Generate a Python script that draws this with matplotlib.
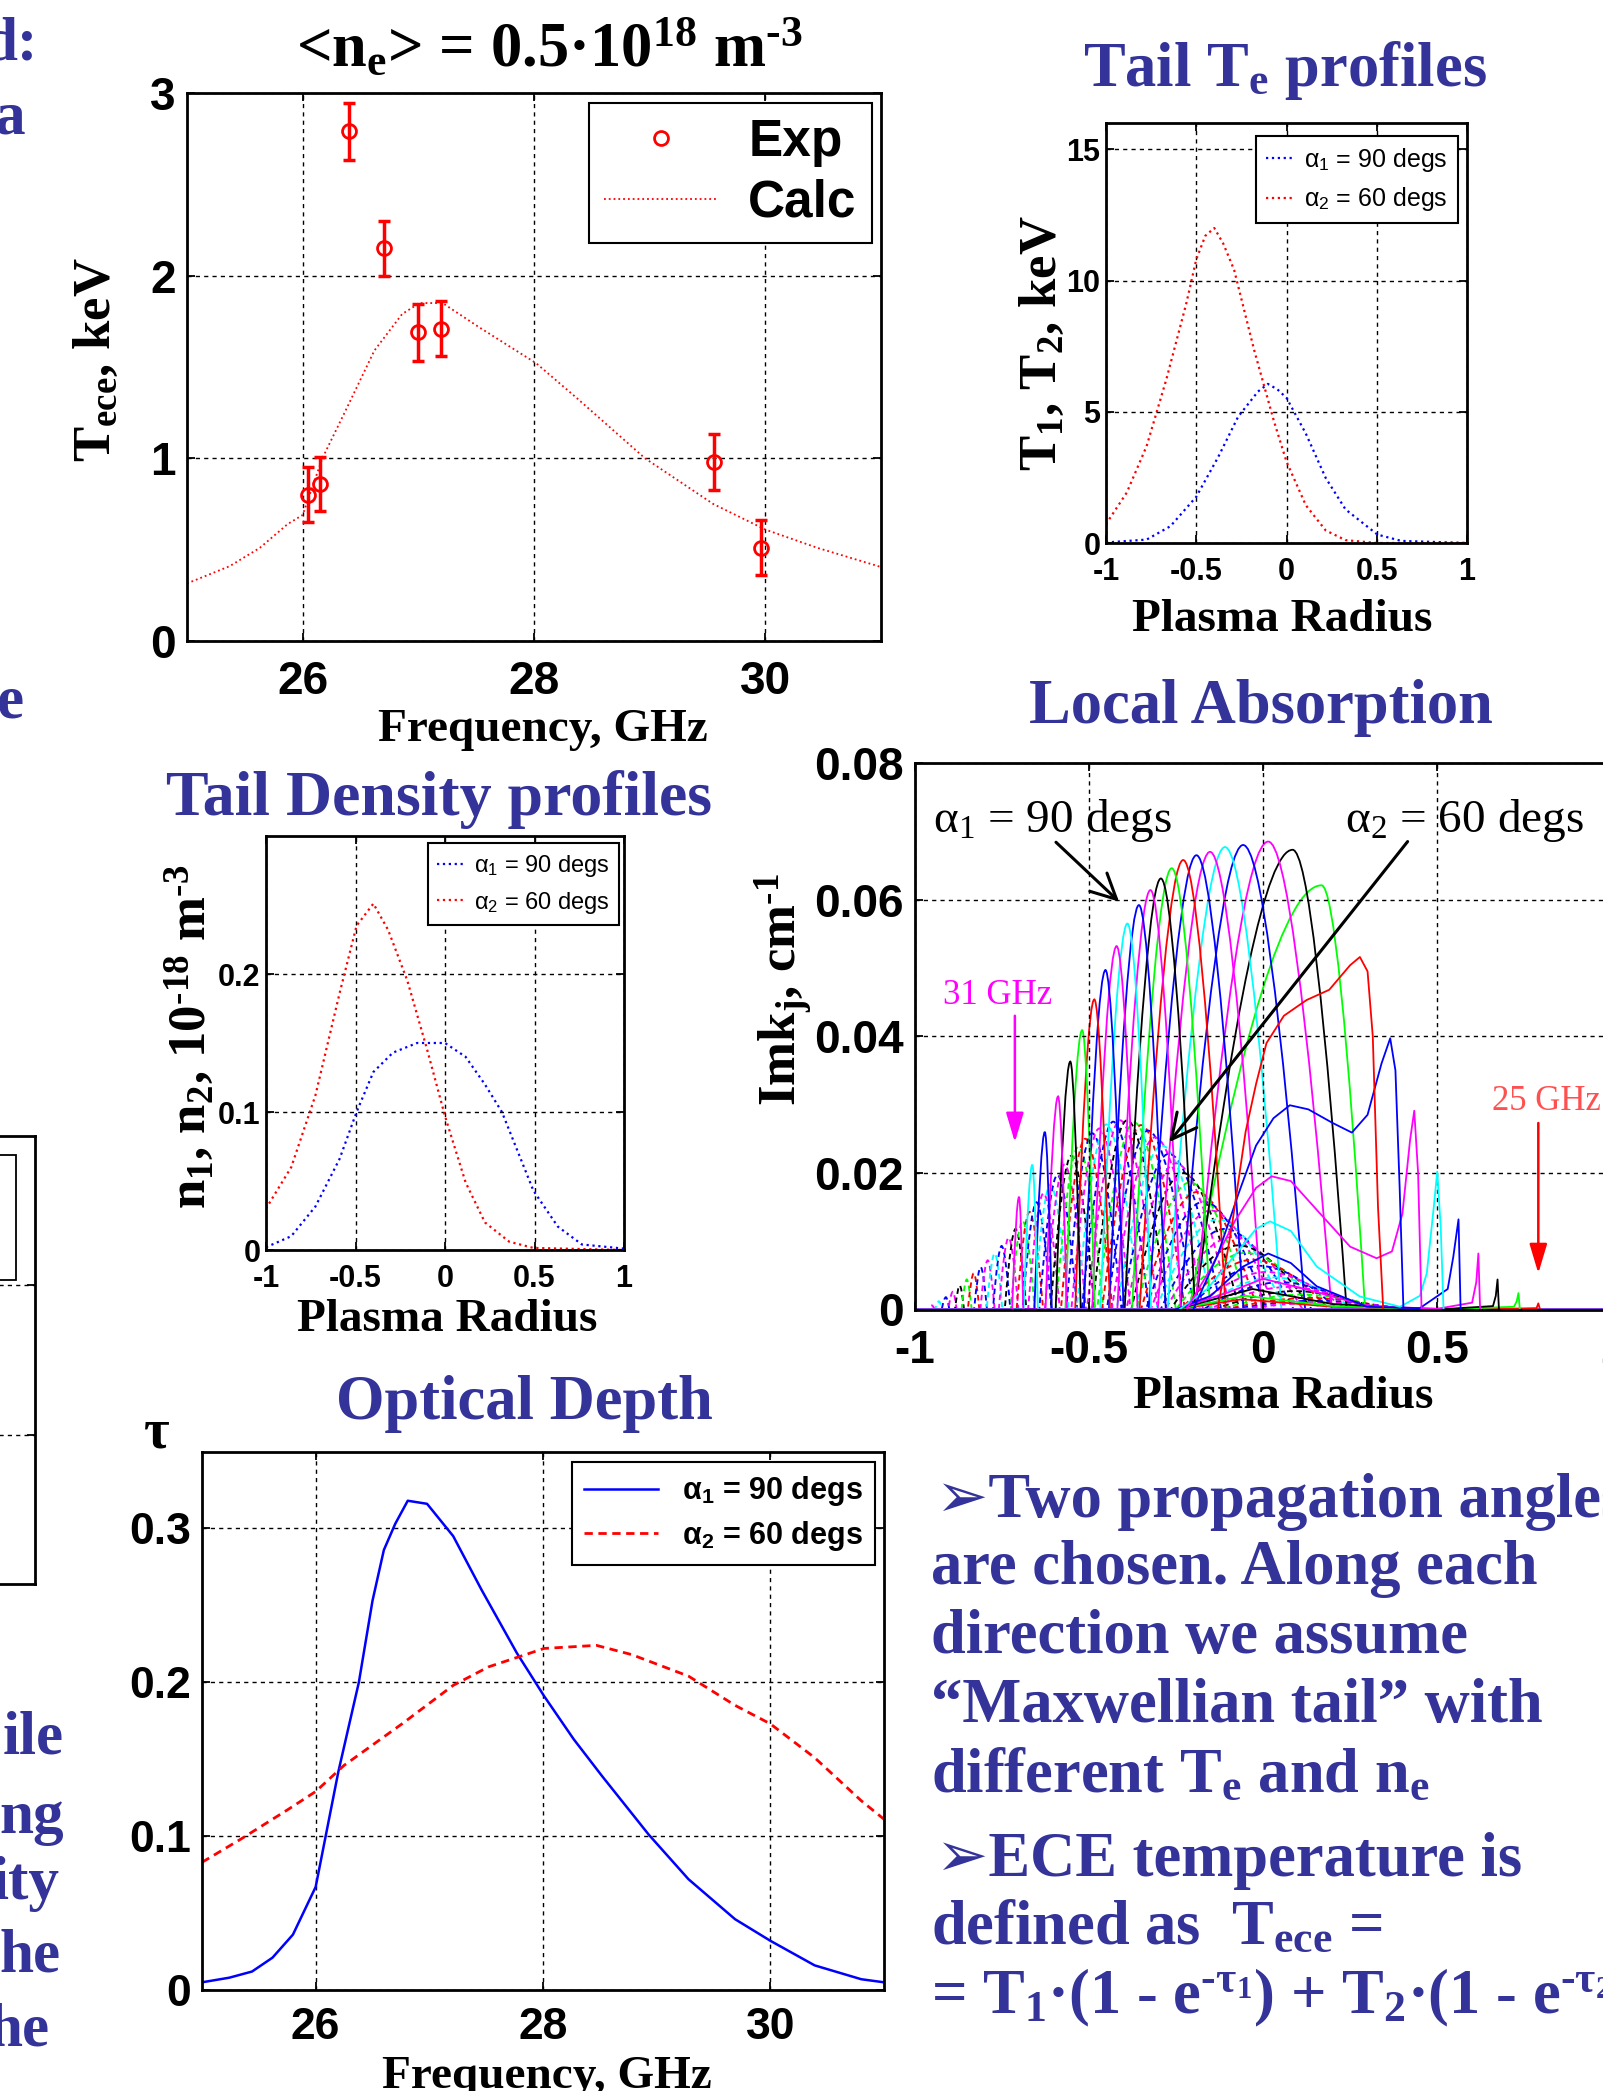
import matplotlib.pyplot as plt
from matplotlib.path import Path
from matplotlib.patches import PathPatch, Rectangle
from matplotlib.lines import Line2D

plt.rcParams['font.family'] = ['Liberation Serif', 'DejaVu Sans']
plt.rcParams['axes.unicode_minus'] = False
plt.rcParams['mathtext.fontset'] = 'custom'
plt.rcParams['mathtext.rm'] = 'Liberation Serif'
plt.rcParams['mathtext.it'] = 'Liberation Serif:italic'
plt.rcParams['mathtext.bf'] = 'Liberation Serif:bold'

W, H = 1603, 2091
TXT_BLUE = '#333399'
SANS = ['Liberation Sans', 'DejaVu Sans']
HY = '\u2010'  # short hyphen for exponents
C = {'r': '#ff0000', 'g': '#00ff00', 'b': '#0000ff', 'c': '#00ffff', 'm': '#ff00ff', 'k': '#000000'}

# ---- T_ece vs frequency ----
exp_freq = [26.05, 26.15, 26.40, 26.70, 27.00, 27.20, 29.56, 29.96]
exp_tece = [0.80, 0.86, 2.79, 2.15, 1.69, 1.71, 0.98, 0.51]
exp_err = [0.15, 0.15, 0.155, 0.15, 0.155, 0.15, 0.155, 0.15]
calc_freq = [25.0, 25.37, 25.63, 25.87, 26.0, 26.17, 26.37, 26.62, 26.86, 27.01,
             27.21, 27.52, 28.02, 28.37, 28.96, 29.55, 30.0, 30.45, 31.0]
calc_tece = [0.315, 0.41, 0.51, 0.64, 0.69, 1.0, 1.26, 1.59, 1.79, 1.85,
             1.85, 1.72, 1.52, 1.33, 1.0, 0.75, 0.61, 0.51, 0.405]
freq_ticks = [26, 28, 30]
freq_labels = ['26', '28', '30']
tece_ticks = [0, 1, 2, 3]
tece_labels = ['0', '1', '2', '3']

# ---- tail Te profiles ----
t2_r = [-1.0, -0.885, -0.775, -0.665, -0.555, -0.5, -0.45, -0.40, -0.35, -0.29, -0.18,
        -0.07, 0.0, 0.107, 0.217, 0.327, 0.5, 1.0]
t2_val = [0.72, 1.92, 3.69, 6.25, 9.13, 10.8, 11.7, 12.0, 11.4, 10.4, 7.37,
          4.65, 3.1, 1.44, 0.48, 0.11, 0.0, 0.0]
t1_r = [-1.0, -0.775, -0.643, -0.5, -0.378, -0.268, -0.158, -0.103, -0.05, 0.0, 0.107,
        0.217, 0.327, 0.504, 0.636, 1.0]
t1_val = [0.02, 0.13, 0.64, 1.76, 3.28, 4.81, 5.77, 6.06, 5.85, 5.53, 4.17,
          2.48, 1.28, 0.32, 0.08, 0.0]
te_ticks = [0, 5, 10, 15]
te_labels = ['0', '5', '10', '15']

# ---- tail density profiles ----
n2_r = [-1.0, -0.859, -0.724, -0.589, -0.494, -0.40, -0.318, -0.21, -0.1015, 0.0,
        0.115, 0.223, 0.359, 0.494, 1.0]
n2_val = [0.030, 0.060, 0.112, 0.186, 0.235, 0.251, 0.232, 0.195, 0.146, 0.097,
          0.049, 0.020, 0.006, 0.0015, 0.0]
n1_r = [-1.0, -0.859, -0.724, -0.589, -0.494, -0.40, -0.291, -0.156, 0.0, 0.115,
        0.223, 0.318, 0.494, 0.63, 0.765, 1.0]
n1_val = [0.002, 0.010, 0.0315, 0.066, 0.100, 0.129, 0.143, 0.150, 0.150, 0.140,
          0.120, 0.100, 0.043, 0.017, 0.004, 0.001]
n_ticks = [0, 0.1, 0.2]
n_labels = ['0', '0.1', '0.2']
r_ticks = [-1, -0.5, 0, 0.5, 1]
r_labels = ['-1', '-0.5', '0', '0.5', '1']

# ---- local absorption, alpha = 90 degs (solid), simple peaks ----
sol_x = [-0.700, -0.662, -0.626, -0.588, -0.553, -0.519, -0.484, -0.452, -0.420, -0.389, -0.356,
         -0.323, -0.293, -0.262, -0.229, -0.191, -0.152, -0.109, -0.057, 0.015, 0.085, 0.168]
sol_h = [0.0165, 0.0212, 0.0260, 0.0312, 0.0363, 0.0409, 0.0454, 0.0497, 0.0532, 0.0565, 0.0592,
         0.0614, 0.0631, 0.0646, 0.0658, 0.0665, 0.0670, 0.0677, 0.0680, 0.0685, 0.0673, 0.0621]
sol_wl = [0.020, 0.025, 0.030, 0.036, 0.042, 0.048, 0.055, 0.062, 0.070, 0.078, 0.086,
          0.095, 0.104, 0.114, 0.125, 0.137, 0.150, 0.165, 0.180, 0.210, 0.280, 0.380]
sol_wr = [0.012, 0.016, 0.020, 0.025, 0.030, 0.036, 0.045, 0.052, 0.060, 0.068, 0.077,
          0.087, 0.098, 0.110, 0.122, 0.135, 0.148, 0.162, 0.178, 0.182, 0.155, 0.125]
sol_col = ['m', 'c', 'b', 'm', 'k', 'g', 'r', 'b', 'm', 'c', 'b',
           'm', 'k', 'g', 'r', 'b', 'm', 'c', 'b', 'm', 'k', 'g']

# solid curves with a second hump (low frequencies, right side)
red23_x = [-0.13, -0.09, -0.05, -0.02, 0.01, 0.06, 0.125, 0.19, 0.25, 0.278, 0.30, 0.315, 0.33, 0.345]
red23_y = [0, 0.012, 0.026, 0.033, 0.039, 0.043, 0.0453, 0.0468, 0.0504, 0.0516, 0.0495, 0.040, 0.015, 0]
blue24_x = [-0.2, -0.13, -0.07, -0.02, 0.03, 0.077, 0.13, 0.2, 0.255, 0.3, 0.34, 0.365, 0.38, 0.392, 0.403]
blue24_y = [0, 0.008, 0.017, 0.024, 0.028, 0.0299, 0.0293, 0.0273, 0.0259, 0.0285, 0.036, 0.0397, 0.035, 0.018, 0]
mag25_x = [-0.22, -0.15, -0.08, -0.02, 0.025, 0.08, 0.154, 0.25, 0.326, 0.37, 0.40, 0.422, 0.434, 0.445, 0.455]
mag25_y = [0, 0.006, 0.013, 0.0178, 0.0195, 0.0188, 0.0146, 0.0092, 0.0075, 0.0085, 0.014, 0.0248, 0.0291, 0.020, 0]
cyan26_x = [-0.24, -0.16, -0.08, -0.02, 0.02, 0.08, 0.154, 0.278, 0.393, 0.45, 0.47, 0.49, 0.50, 0.51, 0.518]
cyan26_y = [0, 0.003, 0.008, 0.0118, 0.0129, 0.0115, 0.0063, 0.0019, 0.0004, 0.002, 0.0053, 0.015, 0.0202, 0.012, 0]
blue27_x = [-0.25, -0.15, -0.06, 0.015, 0.08, 0.154, 0.298, 0.45, 0.53, 0.546, 0.561, 0.567]
blue27_y = [0, 0.002, 0.0062, 0.0082, 0.0068, 0.0034, 0.0004, 0.0002, 0.003, 0.0077, 0.0132, 0]
mag28_x = [-0.25, -0.1, 0.0, 0.12, 0.3, 0.5, 0.6, 0.612, 0.618, 0.623]
mag28_y = [0, 0.0025, 0.0045, 0.003, 0.0005, 0.0001, 0.001, 0.004, 0.0082, 0]
blk29_x = [-0.25, -0.03, 0.2, 0.5, 0.66, 0.668, 0.673, 0.677]
blk29_y = [0, 0.003, 0.0008, 0.0, 0.0005, 0.002, 0.0044, 0]
grn30_x = [-0.25, -0.05, 0.2, 0.5, 0.72, 0.728, 0.733, 0.737]
grn30_y = [0, 0.002, 0.0005, 0, 0.0004, 0.0012, 0.0024, 0]
red31_x = [-0.25, -0.06, 0.2, 0.6, 0.785, 0.79, 0.795]
red31_y = [0, 0.0015, 0.0004, 0, 0.0002, 0.0009, 0]

# ---- local absorption, alpha = 60 degs (dashed) ----
dash_x = [-0.95, -0.93, -0.91, -0.89, -0.87, -0.85, -0.83, -0.81, -0.79, -0.77, -0.75, -0.73,
          -0.71, -0.69, -0.67, -0.65, -0.63, -0.61, -0.59, -0.57, -0.55, -0.53, -0.51, -0.49,
          -0.47, -0.45, -0.43, -0.41, -0.39, -0.37, -0.35, -0.33, -0.31, -0.29, -0.27, -0.25,
          -0.23, -0.21, -0.19, -0.17, -0.15, -0.13, -0.11, -0.09, -0.07, -0.05, -0.03, -0.01,
          0.01, 0.03, 0.05, 0.07, 0.09, 0.11, 0.13, 0.15, 0.17]
dash_h = [0.0006, 0.0012, 0.0018, 0.0026, 0.0035, 0.0044, 0.0053, 0.0062, 0.0072, 0.0082, 0.0093, 0.0105,
          0.0118, 0.0130, 0.0143, 0.0157, 0.0170, 0.0183, 0.0197, 0.0212, 0.0225, 0.0238, 0.0250, 0.0258,
          0.0265, 0.0271, 0.0275, 0.0277, 0.0277, 0.0274, 0.0270, 0.0262, 0.0252, 0.0240, 0.0228, 0.0214,
          0.0200, 0.0186, 0.0172, 0.0158, 0.0145, 0.0132, 0.0118, 0.0106, 0.0094, 0.0083, 0.0073, 0.0064,
          0.0055, 0.0047, 0.0040, 0.0033, 0.0027, 0.0022, 0.0017, 0.0013, 0.0010]
dash_wl = [0.010, 0.011, 0.012, 0.013, 0.014, 0.015, 0.017, 0.019, 0.021, 0.023, 0.025, 0.028,
           0.031, 0.034, 0.037, 0.040, 0.044, 0.048, 0.052, 0.056, 0.060, 0.065, 0.070, 0.075,
           0.080, 0.085, 0.090, 0.095, 0.100, 0.106, 0.112, 0.118, 0.124, 0.130, 0.136, 0.142,
           0.148, 0.154, 0.160, 0.166, 0.172, 0.178, 0.184, 0.190, 0.195, 0.200, 0.205, 0.210,
           0.214, 0.218, 0.222, 0.226, 0.230, 0.234, 0.238, 0.242, 0.246]
dash_wr = [0.008, 0.009, 0.010, 0.011, 0.012, 0.014, 0.016, 0.018, 0.020, 0.022, 0.025, 0.028,
           0.031, 0.035, 0.039, 0.043, 0.047, 0.052, 0.057, 0.062, 0.067, 0.072, 0.078, 0.084,
           0.090, 0.096, 0.102, 0.108, 0.114, 0.120, 0.126, 0.132, 0.138, 0.144, 0.150, 0.156,
           0.162, 0.168, 0.174, 0.180, 0.186, 0.192, 0.198, 0.204, 0.210, 0.215, 0.220, 0.225,
           0.230, 0.235, 0.240, 0.245, 0.250, 0.255, 0.260, 0.265, 0.270]
dash_cycle = ['m', 'c', 'b', 'm', 'k', 'g', 'r', 'b']
abs_ticks = [0, 0.02, 0.04, 0.06, 0.08]
abs_labels = ['0', '0.02', '0.04', '0.06', '0.08']

# ---- optical depth ----
tau1_freq = [25.0, 25.24, 25.44, 25.62, 25.80, 26.0, 26.2, 26.38, 26.5, 26.6, 26.7, 26.81, 26.98,
             27.21, 27.46, 27.77, 28.01, 28.27, 28.52, 28.93, 29.28, 29.69, 30.0, 30.39, 30.8, 31.0]
tau1_val = [0.005, 0.008, 0.012, 0.021, 0.036, 0.067, 0.142, 0.200, 0.253, 0.286, 0.303, 0.318, 0.316,
            0.295, 0.260, 0.219, 0.191, 0.163, 0.139, 0.101, 0.072, 0.046, 0.032, 0.016, 0.007, 0.005]
tau2_freq = [25.0, 25.34, 25.75, 26.0, 26.25, 26.76, 27.21, 27.52, 28.01, 28.47, 28.78, 29.28,
             29.69, 30.0, 30.39, 30.8, 31.0]
tau2_val = [0.083, 0.098, 0.117, 0.129, 0.146, 0.173, 0.198, 0.210, 0.222, 0.224, 0.218, 0.204,
            0.185, 0.173, 0.151, 0.123, 0.111]
tau_ticks = [0, 0.1, 0.2, 0.3]
tau_labels = ['0', '0.1', '0.2', '0.3']

bullet_lines = ['➢Two propagation angles',
                'are chosen. Along each',
                'direction we assume',
                '\u201cMaxwellian tail\u201d with',
                'different T$_\\mathregular{e}$ and n$_\\mathregular{e}$',
                '➢ECE temperature is',
                'defined as  T$_\\mathregular{ece}$ =',
                '= T$_\\mathregular{1}$·(1 - e$^{\\mathregular{' + HY + 'τ}_{\\mathregular{1}}}$) + '
                'T$_\\mathregular{2}$·(1 - e$^{\\mathregular{' + HY + 'τ}_{\\mathregular{2}}}$)']
bullet_x = [936, 931, 931, 931, 931, 936, 931, 931]
bullet_y = [1517, 1584, 1653, 1722, 1792, 1876, 1944, 2013]

left_frags = ['d:', 'a', 'e', 'ile', 'ng', 'ity', 'he', 'he']
left_frag_x = [38, 26, 24, 64, 64, 60, 61, 50]
left_frag_y = [59, 134, 717, 1754, 1833, 1899, 1971, 2045]


def rect(l, t, r, b):
    return [l / W, 1 - b / H, (r - l) / W, (b - t) / H]


def ftext(x, y, s, **kw):
    fig.text(x / W, 1 - y / H, s, **kw)


def dress(ax, xt, xl, yt, yl, size, xpad, ypad):
    ax.set_xticks(xt, labels=xl, fontsize=size, fontweight='bold', family=SANS)
    ax.set_yticks(yt, labels=yl, fontsize=size, fontweight='bold', family=SANS)
    ax.tick_params(direction='in', top=True, right=True, length=6, width=1.3)
    ax.tick_params(axis='x', pad=xpad)
    ax.tick_params(axis='y', pad=ypad)
    for s in ax.spines.values():
        s.set_linewidth(2)
    ax.grid(True, color='black', linestyle=(0, (3, 3)), linewidth=1.0)


def boxed_legend(ax, handles, labels, anchor, size, weight='normal', **kw):
    leg = ax.legend(handles, labels, loc='upper right', bbox_to_anchor=anchor,
                    prop=dict(family=SANS, size=size, weight=weight), fancybox=False,
                    framealpha=1, edgecolor='black', borderaxespad=0, **kw)
    leg.get_frame().set_linewidth(1.5)
    return leg


def arch(ax, xc, h, wl, wr, color, ls='-', lw=1.3):
    left, right = xc - wl, xc + wr
    verts = [(-1, 0), (left, 0), (left + 0.6 * wl, h), (xc, h),
             (xc + 0.4 * wr, h), (right, 0), (1, 0)]
    codes = [Path.MOVETO, Path.LINETO, Path.CURVE3, Path.CURVE3,
             Path.CURVE3, Path.CURVE3, Path.LINETO]
    ax.add_patch(PathPatch(Path(verts, codes), fill=False, edgecolor=color,
                           linestyle=ls, linewidth=lw))


fig = plt.figure(figsize=(W / 100, H / 100), dpi=100)

# ---------- T_ece ----------
ax1 = fig.add_axes(rect(187, 93, 881, 641))
ax1.errorbar(exp_freq, exp_tece, yerr=exp_err, fmt='none', ecolor='red',
             elinewidth=2.5, capsize=4, capthick=2.5)
ax1.plot(exp_freq, exp_tece, 'o', mfc='none', mec='red', mew=2, ms=10)
ax1.plot(calc_freq, calc_tece, ':', color='red', lw=1.3)
ax1.set_xlim(25, 31)
ax1.set_ylim(0, 3)
dress(ax1, freq_ticks, freq_labels, tece_ticks, tece_labels, 33, 14, 8)
boxed_legend(ax1, [Line2D([], [], ls='none', marker='o', mfc='none', mec='red', mew=2, ms=10),
                   Line2D([], [], ls=':', color='red', lw=1.3)],
             ['Exp', 'Calc'], (0.987, 0.982), 37, 'bold',
             handlelength=2.2, handletextpad=0.6, labelspacing=0.22, borderpad=0.3)
ftext(549, 66, '<n$_\\mathregular{e}$> = 0.5·10$^\\mathregular{18}$ m$^\\mathregular{' + HY + '3}$',
      ha='center', va='baseline', fontsize=45, fontweight='bold')
ftext(97, 360, 'T$_\\mathregular{ece}$, keV', rotation=90, ha='center', va='center',
      fontsize=38, fontweight='bold')
ftext(543, 741, 'Frequency, GHz', ha='center', va='baseline', fontsize=34, fontweight='bold')

# ---------- Tail Te ----------
ax2 = fig.add_axes(rect(1106, 123, 1467, 543))
ax2.plot(t1_r, t1_val, ':', color='blue', lw=1.6)
ax2.plot(t2_r, t2_val, ':', color='red', lw=1.6)
ax2.set_xlim(-1, 1)
ax2.set_ylim(0, 16)
dress(ax2, r_ticks, r_labels, te_ticks, te_labels, 22, 10, 4)
boxed_legend(ax2, [Line2D([], [], ls=':', color='blue', lw=1.6), Line2D([], [], ls=':', color='red', lw=1.6)],
             ['α$_\\mathregular{1}$ = 90 degs', 'α$_\\mathregular{2}$ = 60 degs'],
             (0.975, 0.969), 18,
             handlelength=1.1, handletextpad=0.45, labelspacing=0.45, borderpad=0.4)
ftext(1285, 86, 'Tail T$_\\mathregular{e}$ profiles', ha='center', va='baseline',
      fontsize=45, fontweight='bold', color=TXT_BLUE)
ftext(1043, 343, 'T$_\\mathregular{1}$, T$_\\mathregular{2}$, keV', rotation=90, ha='center',
      va='center', fontsize=38, fontweight='bold')
ftext(1282, 631, 'Plasma Radius', ha='center', va='baseline', fontsize=34, fontweight='bold')

# ---------- Tail density ----------
ax3 = fig.add_axes(rect(266, 836, 624, 1250))
ax3.plot(n1_r, n1_val, ':', color='blue', lw=1.6)
ax3.plot(n2_r, n2_val, ':', color='red', lw=1.6)
ax3.set_xlim(-1, 1)
ax3.set_ylim(0, 0.3)
dress(ax3, r_ticks, r_labels, n_ticks, n_labels, 22, 10, 4)
boxed_legend(ax3, [Line2D([], [], ls=':', color='blue', lw=1.6), Line2D([], [], ls=':', color='red', lw=1.6)],
             ['α$_\\mathregular{1}$ = 90 degs', 'α$_\\mathregular{2}$ = 60 degs'],
             (0.986, 0.982), 17,
             handlelength=1.1, handletextpad=0.45, labelspacing=0.45, borderpad=0.4)
ftext(439, 815, 'Tail Density profiles', ha='center', va='baseline',
      fontsize=46, fontweight='bold', color=TXT_BLUE)
ftext(190, 1037, 'n$_\\mathregular{1}$, n$_\\mathregular{2}$, 10$^\\mathregular{' + HY + '18}$ m$^\\mathregular{'
      + HY + '3}$', rotation=90, ha='center', va='center', fontsize=38, fontweight='bold')
ftext(447, 1331, 'Plasma Radius', ha='center', va='baseline', fontsize=34, fontweight='bold')

# ---------- Local absorption ----------
ax4 = fig.add_axes(rect(914.5, 763, 1611.5, 1309.5))
ax4.set_xlim(-1, 1)
ax4.set_ylim(0, 0.08)
for i, (xc, h, wl, wr) in enumerate(zip(dash_x, dash_h, dash_wl, dash_wr)):
    arch(ax4, xc, h, wl, wr, C[dash_cycle[i % 8]], ls=(0, (3, 2)), lw=1.35)
humped = [(red31_x, red31_y, 'r'), (grn30_x, grn30_y, 'g'), (blk29_x, blk29_y, 'k'),
          (mag28_x, mag28_y, 'm'), (blue27_x, blue27_y, 'b'), (cyan26_x, cyan26_y, 'c'),
          (mag25_x, mag25_y, 'm'), (blue24_x, blue24_y, 'b'), (red23_x, red23_y, 'r')]
for xs, ys, c in humped:
    ax4.plot(xs, ys, color=C[c], lw=1.3)
for i in reversed(range(len(sol_x))):
    arch(ax4, sol_x[i], sol_h[i], sol_wl[i], sol_wr[i], C[sol_col[i]])
dress(ax4, r_ticks, r_labels, abs_ticks, abs_labels, 33, 14, 8)
ax4.text(-0.947, 0.0699, 'α$_\\mathregular{1}$ = 90 degs', fontsize=34, va='baseline')
ax4.text(0.235, 0.0699, 'α$_\\mathregular{2}$ = 60 degs', fontsize=34, va='baseline')
ax4.annotate('', xy=(-0.413, 0.0597), xytext=(-0.594, 0.0684),
             arrowprops=dict(arrowstyle='->,head_length=0.6,head_width=0.3', color='black',
                             lw=2.2, mutation_scale=30, shrinkA=0, shrinkB=0))
ax4.annotate('', xy=(-0.269, 0.0245), xytext=(0.415, 0.0685),
             arrowprops=dict(arrowstyle='->,head_length=0.6,head_width=0.3', color='black',
                             lw=2.2, mutation_scale=30, shrinkA=0, shrinkB=0))
ax4.text(-0.917, 0.0447, '31 GHz', fontsize=25, color='#ff00ff', va='baseline')
ax4.annotate('', xy=(-0.712, 0.0245), xytext=(-0.712, 0.0430),
             arrowprops=dict(arrowstyle='-|>,head_length=1.0,head_width=0.3', color='#ff00ff',
                             lw=1.8, mutation_scale=18, shrinkA=0, shrinkB=0))
ax4.text(0.656, 0.0292, '25 GHz', fontsize=25, color='#ff5050', va='baseline')
ax4.annotate('', xy=(0.790, 0.0053), xytext=(0.790, 0.0273),
             arrowprops=dict(arrowstyle='-|>,head_length=1.0,head_width=0.3', color='#ff0000',
                             lw=1.8, mutation_scale=18, shrinkA=0, shrinkB=0))
ftext(1261, 723, 'Local Absorption', ha='center', va='baseline',
      fontsize=45, fontweight='bold', color=TXT_BLUE)
ftext(783, 990, 'Imk$_\\mathregular{j}$, cm$^\\mathregular{' + HY + '1}$', rotation=90, ha='center',
      va='center', fontsize=38, fontweight='bold')
ftext(1283, 1408, 'Plasma Radius', ha='center', va='baseline', fontsize=34, fontweight='bold')

# ---------- Optical depth ----------
ax5 = fig.add_axes(rect(202, 1451.5, 884, 1990))
ax5.plot(tau1_freq, tau1_val, '-', color='blue', lw=1.8)
ax5.plot(tau2_freq, tau2_val, color='red', lw=2.0, ls=(0, (3, 2)))
ax5.set_xlim(25, 31)
ax5.set_ylim(0, 0.35)
dress(ax5, freq_ticks, freq_labels, tau_ticks, tau_labels, 32, 12, 8)
boxed_legend(ax5, [Line2D([], [], color='blue', lw=1.8), Line2D([], [], color='red', lw=2.0, ls=(0, (3, 2)))],
             ['α$_\\mathregular{1}$ = 90 degs', 'α$_\\mathregular{2}$ = 60 degs'],
             (0.987, 0.98), 22, 'bold',
             handlelength=2.4, handletextpad=0.8, labelspacing=0.35, borderpad=0.4)
ftext(524, 1419, 'Optical Depth', ha='center', va='baseline',
      fontsize=45, fontweight='bold', color=TXT_BLUE)
ftext(157, 1434, 'τ', ha='center', va='center', fontsize=40, fontweight='bold')
ftext(547, 2088, 'Frequency, GHz', ha='center', va='baseline', fontsize=34, fontweight='bold')

# ---------- cut-off panel on the left ----------
ax6 = fig.add_axes(rect(-400, 1136, 35, 1584))
ax6.set_xlim(0, 1)
ax6.set_ylim(0, 3)
ax6.set_xticks([])
ax6.set_yticks([1, 2], labels=['', ''])
ax6.tick_params(direction='in', right=True, length=6, width=1.3)
ax6.grid(True, axis='y', color='black', linestyle=(0, (3, 3)), linewidth=1.0)
for s in ax6.spines.values():
    s.set_linewidth(2)
ax6.add_patch(Rectangle((0.5, 0.6786), 0.456, 0.279, transform=ax6.transAxes,
                        fill=False, lw=1.3, edgecolor='black'))

# ---------- slide text ----------
for s, x, y in zip(bullet_lines, bullet_x, bullet_y):
    ftext(x, y, s, ha='left', va='baseline', fontsize=45, fontweight='bold', color=TXT_BLUE)
for s, x, y in zip(left_frags, left_frag_x, left_frag_y):
    ftext(x, y, s, ha='right', va='baseline', fontsize=44, fontweight='bold', color=TXT_BLUE)

fig.savefig('out.png', dpi=100)
